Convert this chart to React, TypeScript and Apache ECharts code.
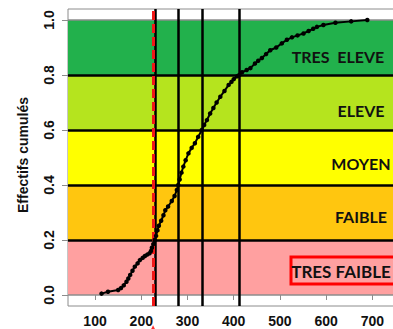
import React, { useEffect, useRef } from "react";
import * as echarts from "echarts";

// ECDF values
const ecdfX = [
  114, 128, 150, 156, 162, 168, 172, 176, 181, 186, 192, 197, 203, 208, 213, 218,
  221, 223, 226, 229, 232, 235, 238, 243, 248, 252, 258, 266, 272, 277, 280, 283,
  287, 291, 296, 302, 309, 316, 323, 331, 336, 342, 349, 356, 363, 371, 380, 389,
  395, 400, 407, 412, 418, 428, 436, 446, 453, 461, 470, 479, 492, 504, 515, 526,
  538, 551, 562, 572, 580, 594, 620, 654, 689,
];
const ecdfY = [
  0.005, 0.012, 0.018, 0.025, 0.035, 0.048, 0.06, 0.073, 0.088, 0.103, 0.115, 0.127, 0.135, 0.142, 0.147, 0.152,
  0.16, 0.172, 0.185, 0.2, 0.215, 0.235, 0.252, 0.27, 0.29, 0.308, 0.322, 0.342, 0.36, 0.382, 0.4, 0.42,
  0.445, 0.467, 0.49, 0.515, 0.535, 0.552, 0.575, 0.6, 0.618, 0.636, 0.66, 0.68, 0.7, 0.721, 0.742, 0.764,
  0.775, 0.785, 0.795, 0.8, 0.81, 0.818, 0.825, 0.842, 0.852, 0.862, 0.876, 0.89, 0.9, 0.915, 0.928, 0.937,
  0.944, 0.951, 0.96, 0.968, 0.975, 0.982, 0.99, 0.995, 1.0,
];

const xTicks = [100, 200, 300, 400, 500, 600, 700];
const yTicks = [0, 0.2, 0.4, 0.6, 0.8, 1.0];

const bandEdges = [0, 0.2, 0.4, 0.6, 0.8, 1.0];
const bandColors = ["#FFA0A0", "#FFC60F", "#FFFF00", "#B5E41E", "#22B14C"];
const bandNames = ["TRES FAIBLE", "FAIBLE", "MOYEN", "ELEVE", "TRES  ELEVE"];

const quantileLines = [231, 279, 333, 412];
const thresholdLine = 225.5;

export default function App() {
  const ref = useRef<HTMLDivElement>(null);
  useEffect(() => {
    if (!ref.current) return;
    const chart = echarts.init(ref.current, null, { renderer: "svg" });
    const data = ecdfX.map((x, i) => [x, ecdfY[i]]);
    const font = "'Liberation Sans', Arial, sans-serif";
    const labelFont = "Lato, 'Open Sans', sans-serif";
    const bandLabelPos = [
      { x: 341, y: 271 },
      { x: 361, y: 216 },
      { x: 361, y: 163 },
      { x: 361, y: 110 },
      { x: 338, y: 56 },
    ];
    chart.setOption({
      animation: false,
      backgroundColor: "#ffffff",
      grid: {
        left: 68,
        top: 9,
        width: 346,
        height: 297,
        show: true,
        borderColor: "#8c8c8c",
        borderWidth: 1,
        backgroundColor: "transparent",
        containLabel: false,
        outerBoundsMode: "none",
      },
      xAxis: {
        type: "value",
        min: 41.5,
        max: 790,
        axisLine: { show: false },
        splitLine: { show: false },
        axisTick: {
          show: true,
          customValues: xTicks,
          length: 5,
          lineStyle: { color: "#8c8c8c", width: 1 },
        },
        axisLabel: {
          customValues: xTicks,
          margin: 8,
          fontFamily: font,
          fontWeight: "bold",
          fontSize: 14,
          color: "#111",
        },
      },
      yAxis: {
        type: "value",
        min: -0.04,
        max: 1.04,
        axisLine: { show: false },
        splitLine: { show: false },
        axisTick: {
          show: true,
          customValues: yTicks,
          length: 6,
          lineStyle: { color: "#8c8c8c", width: 1 },
        },
        axisLabel: {
          customValues: yTicks,
          rotate: 90,
          margin: 12,
          formatter: (v: number) => v.toFixed(1),
          fontFamily: font,
          fontWeight: "bold",
          fontSize: 14,
          color: "#111",
        },
      },
      series: [
        {
          type: "line",
          name: "bands",
          data: [],
          z: 1,
          silent: true,
          markArea: {
            silent: true,
            data: bandColors.map((c, i) => [
              { yAxis: bandEdges[i], itemStyle: { color: c, opacity: 1 } },
              { yAxis: bandEdges[i + 1] },
            ]),
          },
        },
        {
          type: "line",
          name: "lines",
          data: [],
          z: 3,
          silent: true,
          markLine: {
            silent: true,
            symbol: "none",
            label: { show: false },
            data: [
              { yAxis: 0, lineStyle: { color: "#8c8c8c", width: 1.5, type: "solid" } },
              { yAxis: 1, lineStyle: { color: "#8c8c8c", width: 1.5, type: "solid" } },
              ...[0.2, 0.4, 0.6, 0.8].map((v) => ({
                yAxis: v,
                lineStyle: { color: "#000", width: 2.5, type: "solid" },
              })),
              ...quantileLines.map((v) => ({
                xAxis: v,
                lineStyle: { color: "#000", width: 2.5, type: "solid" },
              })),
              {
                xAxis: thresholdLine,
                lineStyle: { color: "#F01818", width: 3, type: [9, 4] },
              },
            ],
          },
        },
        {
          type: "line",
          name: "ecdf",
          data,
          z: 5,
          symbol: "circle",
          symbolSize: 4.5,
          showSymbol: true,
          lineStyle: { color: "#000", width: 2 },
          itemStyle: { color: "#000" },
        },
        {
          type: "scatter",
          name: "marker",
          data: [[thresholdLine, -0.128]],
          clip: false,
          z: 6,
          symbol: "triangle",
          symbolSize: 10,
          itemStyle: { color: "#FF0000" },
        },
      ],
      graphic: [
        {
          type: "text",
          x: 23,
          y: 155,
          rotation: Math.PI / 2,
          style: {
            text: "Effectifs cumulés",
            fontFamily: font,
            fontWeight: "bold",
            fontSize: 14,
            fill: "#111",
            textAlign: "center",
            textVerticalAlign: "middle",
          },
        },
        {
          type: "rect",
          shape: { x: 291, y: 257, width: 120, height: 27 },
          style: { fill: "none", stroke: "#FF0000", lineWidth: 3 },
          z: 10,
        },
        ...bandNames.map((n, i) => ({
          type: "text",
          z: 10,
          style: {
            x: bandLabelPos[i].x,
            y: bandLabelPos[i].y,
            text: n,
            fontFamily: labelFont,
            fontWeight: "bold",
            fontSize: i === 0 ? 17 : 16,
            fill: "#111",
            textAlign: "center",
            textVerticalAlign: "middle",
          },
        })),
      ],
    });
    return () => chart.dispose();
  }, []);
  return (
    <div
      ref={ref}
      style={{ position: "absolute", left: 0, top: 0, width: 393, height: 329 }}
    />
  );
}
